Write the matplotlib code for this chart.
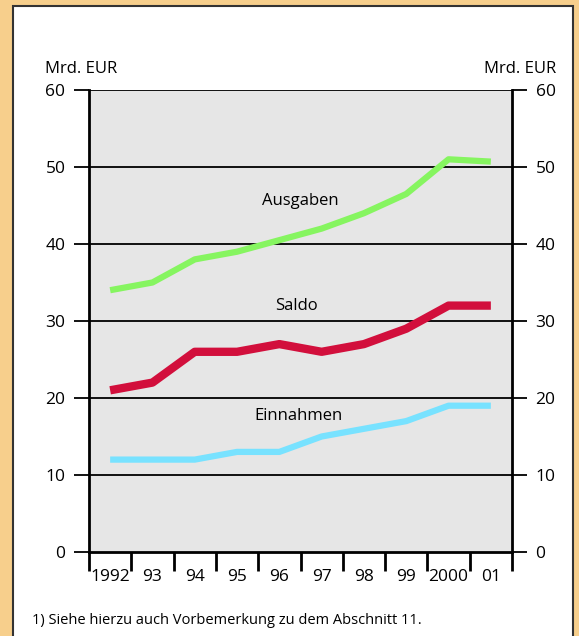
import matplotlib.pyplot as plt
from matplotlib.patches import Rectangle
import numpy as np

plt.rcParams['font.family'] = ['Open Sans', 'DejaVu Sans']

jahre = ['1992', '93', '94', '95', '96', '97', '98', '99', '2000', '01']
ausgaben = [34, 35, 38, 39, 40.5, 42, 44, 46.5, 51, 50.7]
saldo = [21, 22, 26, 26, 27, 26, 27, 29, 32, 32]
einnahmen = [12, 12, 12, 13, 13, 15, 16, 17, 19, 19]

fig = plt.figure(figsize=(5.79, 6.36), dpi=100)
fig.patch.set_facecolor('#f7cf8c')

# weisses Feld mit dunklem Rand
fig.patches.append(Rectangle((13 / 579, -0.01), 560 / 579, 1 - 6 / 636 + 0.01,
                             transform=fig.transFigure, facecolor='white',
                             edgecolor='#333333', linewidth=1.5, zorder=-10))

ax = fig.add_axes([89 / 579, 1 - 552 / 636, 423 / 579, 462 / 636])
ax.set_facecolor('#e6e6e6')

x = np.arange(len(jahre)) + 0.5
ax.plot(x, ausgaben, color='#86f560', lw=4.5, solid_capstyle='butt', zorder=3)
ax.plot(x, saldo, color='#d20f3c', lw=6, solid_capstyle='butt', zorder=3)
ax.plot(x, einnahmen, color='#78e2ff', lw=4.5, solid_capstyle='butt', zorder=3)

ax.set_xlim(0, 10)
ax.set_ylim(0, 60)

for y in range(10, 61, 10):
    ax.axhline(y, color='black', lw=1.3, zorder=2)

for s in ['top', 'bottom']:
    ax.spines[s].set_visible(False)
for s in ['left', 'right']:
    ax.spines[s].set_linewidth(2)
ax.axhline(0, color='black', lw=2, clip_on=False, zorder=4)

# Jahresticks unten, Beschriftung zwischen den Ticks
ax.set_xticks(np.arange(0, 11))
ax.set_xticklabels([])
ax.set_xticks(x, minor=True)
ax.set_xticklabels(jahre, minor=True, fontsize=12.5)
ax.tick_params(axis='x', which='major', direction='out', length=14, width=2)
ax.tick_params(axis='x', which='minor', length=0, pad=12)

ax.set_yticks(range(0, 61, 10))
ax.tick_params(axis='y', which='major', direction='out', length=11, width=1.3,
               labelsize=12.5, left=True, right=True, labelleft=True, labelright=True)
ax.tick_params(axis='y', pad=6)

ax.text(-0.105, 1.045, 'Mrd. EUR', transform=ax.transAxes, ha='left', va='center', fontsize=12)
ax.text(1.105, 1.045, 'Mrd. EUR', transform=ax.transAxes, ha='right', va='center', fontsize=12)

ax.text(5.0, 45.6, 'Ausgaben', ha='center', va='center', fontsize=12)
ax.text(4.9, 31.9, 'Saldo', ha='center', va='center', fontsize=12)
ax.text(4.95, 17.7, 'Einnahmen', ha='center', va='center', fontsize=12)

fig.text(32 / 579, 1 - 621 / 636, '1) Siehe hierzu auch Vorbemerkung zu dem Abschnitt 11.',
         ha='left', va='center', fontsize=10.5)

fig.savefig('out.png', dpi=100)
